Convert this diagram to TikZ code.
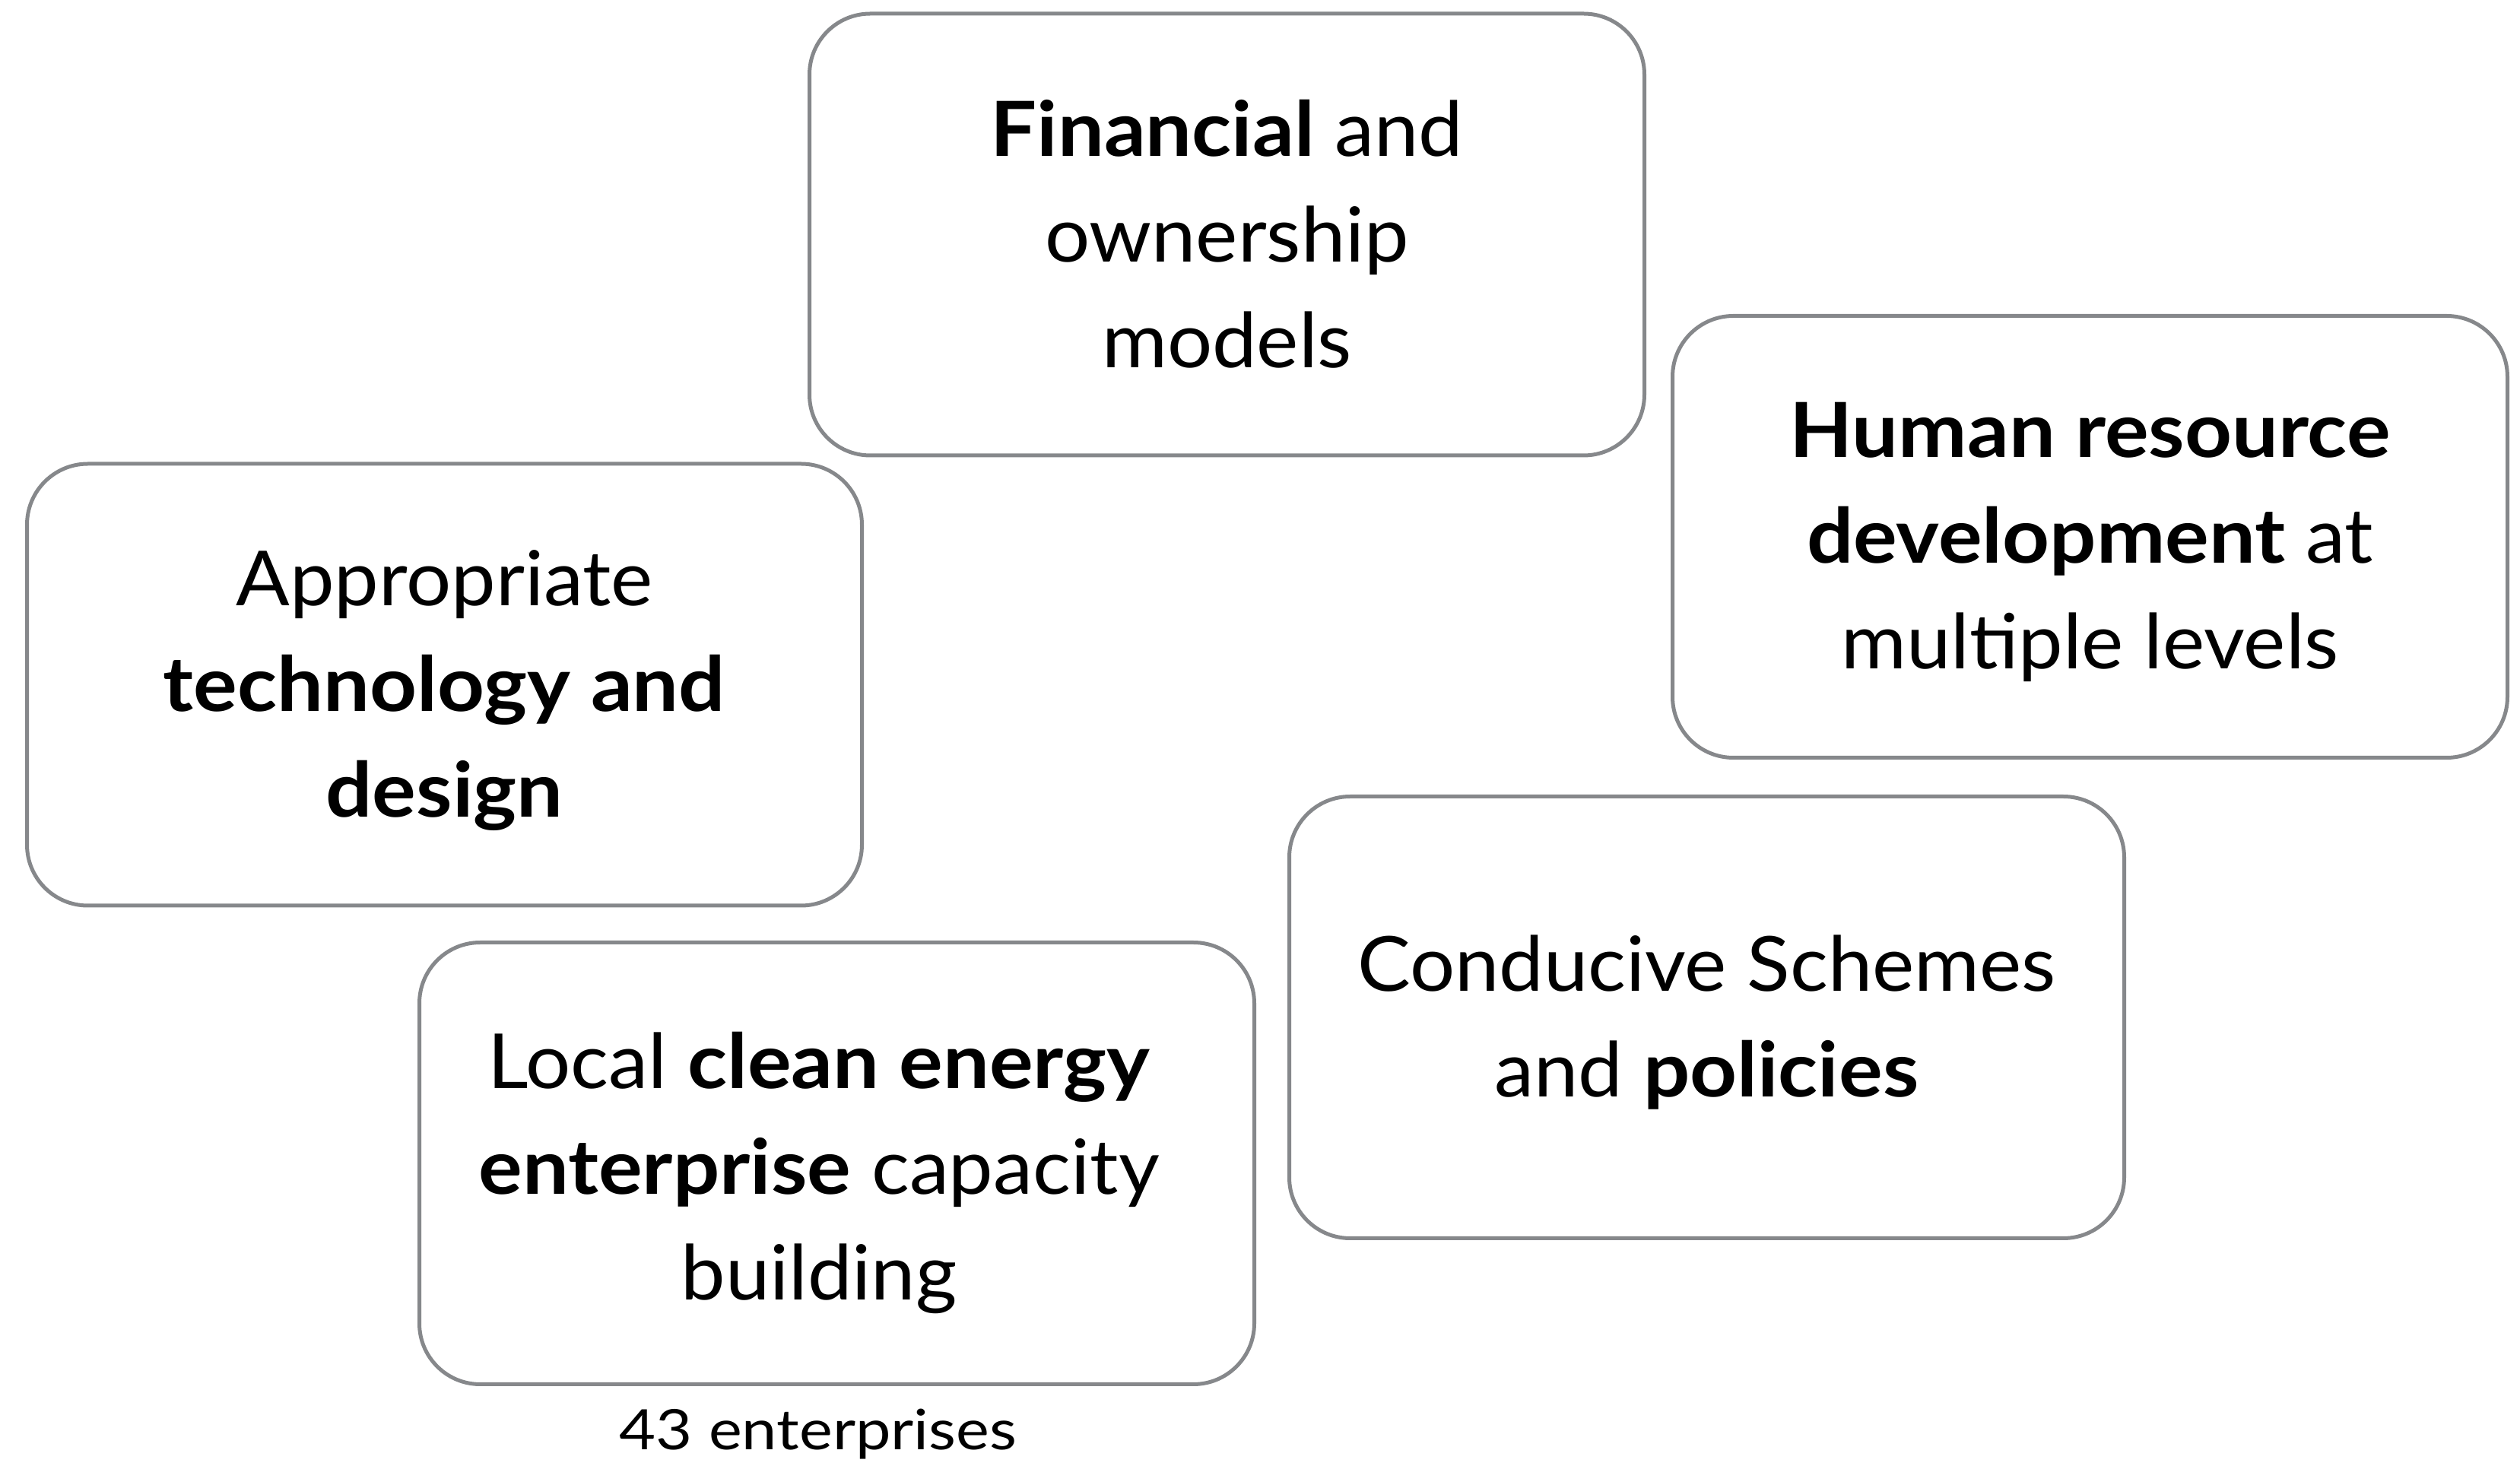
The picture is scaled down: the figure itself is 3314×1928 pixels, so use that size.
\documentclass[tikz,border=0pt]{standalone}
\usepackage{fontspec}
\setmainfont{Lato}[FakeStretch=1.045, BoldFeatures={FakeStretch=1.08}]
\newfontfamily\notefont{Lato}[FakeStretch=1.13]
\definecolor{boxgray}{HTML}{86888B}
\begin{document}
\begin{tikzpicture}[x=0.3pt,y=-0.3pt,
  box/.style={draw=boxgray, line width=1.5pt, rounded corners=24pt,
    minimum width=329.4pt, minimum height=174.3pt, inner sep=0pt},
  boxtext/.style={inner sep=0pt, align=center, yshift=-1.9pt,
    font=\fontsize{30pt}{41.7pt}\selectfont},
  note/.style={inner sep=0pt, font=\notefont\fontsize{22pt}{26pt}\selectfont}]
\useasboundingbox (0,0) rectangle (3314,1928);
\node[box] (fin) at (1613.5,308.5) {};
\node[box] (hum) at (2748.5,706) {};
\node[box] (tech) at (584.5,900.5) {};
\node[box] (pol) at (2244.5,1338) {};
\node[box] (loc) at (1100.5,1530) {};
\node[boxtext] (fint) at ([yshift=2.2pt]fin.center) {\textbf{Financial} and\\ownership\\models};
\node[boxtext] (humt) at ([yshift=-0.3pt]hum.center) {\textbf{Human resource}\\\textbf{development} at\\multiple levels};
\node[boxtext] (techt) at ([yshift=-0.3pt]tech.center) {Appropriate\\\textbf{technology and}\\\textbf{design}};
\node[boxtext] (polt) at (pol.center) {Conducive Schemes\\and \textbf{policies}};
\node[boxtext] (loct) at ([xshift=-7pt,yshift=-1.9pt]loc.center) {Local \textbf{clean energy}\\\textbf{enterprise} capacity\\building};
\node[note] (ent) at (1076,1886) {43 enterprises};
\end{tikzpicture}
\end{document}
